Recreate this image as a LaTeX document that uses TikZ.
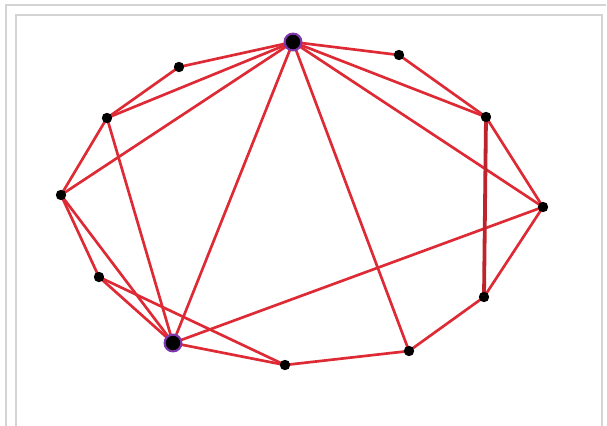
\documentclass[tikz,border=0pt]{standalone}
\usepackage{tikz}
\usetikzlibrary{positioning,backgrounds}
\definecolor{edgered}{RGB}{222,42,52}
\definecolor{hubring}{RGB}{125,55,170}
\definecolor{framegray}{RGB}{212,212,212}

\begin{document}
\begin{tikzpicture}[
    x=0.025cm, y=-0.025cm,
    vert/.style={circle, fill=black, inner sep=0pt, minimum size=0.26cm},
    hub/.style={circle, fill=black, draw=hubring, line width=1.5pt, inner sep=0pt, minimum size=0.42cm},
    edge/.style={draw=edgered, line width=1.9pt},
    boldedge/.style={draw=edgered!85!black, line width=2.7pt},
    frameline/.style={draw=framegray, line width=1.2pt}
]
\useasboundingbox (0,0) rectangle (607,426);
% frame
\draw[frameline] (6,430) -- (6,5) -- (606,5);
\draw[frameline] (16,430) -- (16,15) -- (602,15) -- (602,430);
% vertices
\node[hub] (hubA) at (293,42) {};
\node[hub] (hubB) at (173,343) {};
\node[vert] (p1) at (179,67) {};
\node[vert] (p2) at (107,118) {};
\node[vert] (p3) at (61,195) {};
\node[vert] (p4) at (99,277) {};
\node[vert] (p5) at (285,365) {};
\node[vert] (p6) at (409,351) {};
\node[vert] (p7) at (484,297) {};
\node[vert] (p8) at (543,207) {};
\node[vert] (p9) at (486,117) {};
\node[vert] (p10) at (399,55) {};
% edges, behind the vertices
\begin{scope}[on background layer]
\foreach \a/\b in {hubA/p1, p1/p2, p2/p3, p3/p4, p4/hubB, hubB/p5, p5/p6, p6/p7, p7/p8, p8/p9, p9/p10, p10/hubA,
                   hubA/p2, hubA/p3, hubA/hubB, hubA/p6, hubA/p9, hubA/p8,
                   p2/hubB, p3/hubB, p4/p5, hubB/p8}
    \draw[edge] (\a.center) -- (\b.center);
\draw[boldedge] (p9.center) -- (p7.center);
\end{scope}
\end{tikzpicture}
\end{document}
